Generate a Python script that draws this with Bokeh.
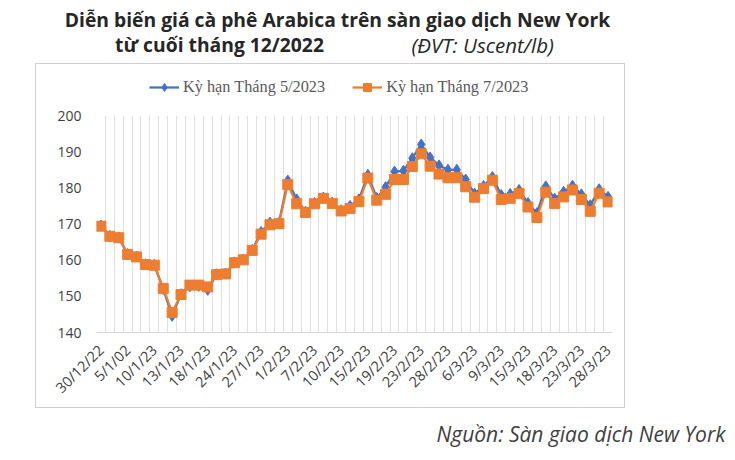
from bokeh.core.properties import value
from bokeh.layouts import column
from bokeh.models import FixedTicker, Legend, LegendItem, Range1d
from bokeh.plotting import figure
from bokeh.embed import file_html
from bokeh.resources import INLINE

# tick labels, shown every 3rd trading day
tick_labels = ["30/12/22", "5/1/02", "10/1/23", "13/1/23", "18/1/23", "24/1/23",
               "27/1/23", "1/2/23", "7/2/23", "10/2/23", "15/2/23", "19/2/23",
               "23/2/23", "28/2/23", "6/3/23", "9/3/23", "15/3/23", "18/3/23",
               "23/3/23", "28/3/23"]

# Ky han Thang 5/2023 (Uscent/lb)
may_2023 = [169.6, 166.7, 166.3, 161.7, 161.0, 158.9, 158.7, 152.0, 144.6, 150.6,
            152.8, 152.9, 151.8, 156.1, 156.3, 159.4, 160.2, 162.8, 167.8, 170.4,
            170.3, 182.0, 176.8, 173.4, 175.8, 177.3, 175.9, 173.8, 175.0, 176.8,
            183.6, 177.2, 180.2, 184.5, 184.7, 188.2, 192.0, 188.4, 186.2, 185.0,
            185.0, 182.3, 178.4, 180.5, 183.0, 178.0, 178.3, 179.4, 175.8, 173.0,
            180.4, 177.0, 178.9, 180.6, 178.2, 175.2, 179.6, 177.5]

# Ky han Thang 7/2023 (Uscent/lb)
jul_2023 = [169.4, 166.6, 166.2, 161.6, 160.9, 158.8, 158.6, 152.2, 145.5, 150.5,
            153.1, 153.1, 152.6, 156.0, 156.2, 159.3, 160.1, 162.7, 167.2, 169.8,
            170.1, 180.9, 175.6, 173.2, 175.6, 177.1, 175.7, 173.6, 174.3, 176.2,
            182.7, 176.6, 178.2, 182.3, 182.3, 185.9, 189.4, 186.0, 183.8, 182.8,
            182.8, 180.3, 177.4, 179.8, 182.1, 176.8, 177.1, 178.4, 174.7, 171.8,
            178.8, 175.7, 177.5, 179.4, 176.8, 173.5, 178.5, 176.1]

series_names = ["Kỳ hạn Tháng 5/2023", "Kỳ hạn Tháng 7/2023"]

x = list(range(len(jul_2023)))
tick_pos = x[::3]

BLUE = "#4472C4"
ORANGE = "#ED7D31"
W = 730
BOX_W = 588


def blank(width, height):
    # figure whose frame is the whole canvas, y pointing down (pixel units)
    f = figure(width=width, height=height, output_backend="svg", toolbar_location=None,
               tools="", x_range=Range1d(0, width), y_range=Range1d(height, 0),
               x_axis_type=None, y_axis_type=None,
               min_border_left=0, min_border_right=0, min_border_top=0,
               min_border_bottom=0)
    f.outline_line_color = None
    f.grid.visible = False
    f.frame_align = False
    return f


# ---- title
top = blank(W, 63)
top.text(x=[337], y=[19], text=["Diễn biến giá cà phê Arabica trên sàn giao dịch New York"],
         text_align="center", text_baseline="middle", text_font=value("Open Sans"),
         text_font_style="bold", text_font_size="19.3px", text_color="#262626")
top.text(x=[219], y=[44], text=["từ cuối tháng 12/2022"],
         text_align="center", text_baseline="middle", text_font=value("Open Sans"),
         text_font_style="bold", text_font_size="19.3px", text_color="#262626")
top.text(x=[411], y=[44], text=["(ĐVT: Uscent/lb)"],
         text_align="left", text_baseline="middle", text_font=value("Open Sans"),
         text_font_style="italic", text_font_size="20.5px", text_color="#262626")

# ---- legend strip (inside the chart box); samples sit outside its visible range
leg = blank(BOX_W, 41)
off = [-50, -40]
lb0 = leg.line(off, off, line_color=BLUE, line_width=2.25)
sb0 = leg.scatter(off, off, marker="diamond", size=11, fill_color=BLUE, line_color=BLUE)
lo0 = leg.line(off, off, line_color=ORANGE, line_width=2.25)
so0 = leg.scatter(off, off, marker="square", size=10, fill_color=ORANGE, line_color=ORANGE)
legend = Legend(items=[LegendItem(label=series_names[0], renderers=[lb0, sb0]),
                       LegendItem(label=series_names[1], renderers=[lo0, so0])],
                orientation="horizontal", location=(113, 8), padding=0, margin=0,
                spacing=27, glyph_width=30, glyph_height=20, label_standoff=4,
                background_fill_alpha=0, border_line_color=None,
                label_text_font="Liberation Serif", label_text_font_size="16.3px",
                label_text_color="#595959")
leg.add_layout(legend, "center")

# ---- chart
p = figure(width=BOX_W, height=302, output_backend="svg", toolbar_location=None,
           tools="", x_range=Range1d(-0.5, len(x) - 0.5), y_range=Range1d(140, 200),
           min_border_left=60, min_border_right=12, min_border_top=10,
           min_border_bottom=75)
p.outline_line_color = None
p.frame_align = False

p.yaxis.ticker = FixedTicker(ticks=[140, 150, 160, 170, 180, 190, 200])
p.yaxis.axis_line_color = None
p.yaxis.major_tick_line_color = None
p.yaxis.major_tick_out = 0
p.yaxis.minor_tick_line_color = None
p.yaxis.major_label_standoff = 15
p.yaxis.major_label_text_font = "Open Sans"
p.yaxis.major_label_text_font_size = "14px"
p.yaxis.major_label_text_color = "#404040"

p.xaxis.ticker = FixedTicker(ticks=tick_pos)
p.xaxis.major_label_overrides = {pos: lab for pos, lab in zip(tick_pos, tick_labels)}
p.xaxis.major_label_orientation = 0.785
p.xaxis.axis_line_color = "#d9d9d9"
p.xaxis.major_tick_line_color = None
p.xaxis.major_tick_out = 0
p.xaxis.minor_tick_line_color = None
p.xaxis.major_label_standoff = 15
p.xaxis.major_label_text_font = "Open Sans"
p.xaxis.major_label_text_font_size = "14.5px"
p.xaxis.major_label_text_color = "#404040"

# vertical gridlines between categories
p.xgrid.ticker = FixedTicker(ticks=[i - 0.5 for i in range(len(x) + 1)])
p.xgrid.grid_line_color = "#e0e0e0"
p.ygrid.grid_line_color = None

p.line(x, may_2023, line_color=BLUE, line_width=2.25)
p.scatter(x, may_2023, marker="diamond", size=11, fill_color=BLUE, line_color=BLUE)
p.line(x, jul_2023, line_color=ORANGE, line_width=2.25)
p.scatter(x, jul_2023, marker="square", size=10, fill_color=ORANGE, line_color=ORANGE)

box = column(leg, p, spacing=0, margin=(0, 0, 0, 35))
box.styles = {"border": "1px solid #d0d0d0"}

# ---- source
bottom = blank(W, 47)
bottom.text(x=[725], y=[25], text=["Nguồn: Sàn giao dịch New York"],
            text_align="right", text_baseline="middle", text_font=value("Open Sans"),
            text_font_style="italic", text_font_size="21px", text_color="#404040")

layout = column(top, box, bottom, spacing=0)
open("out.html", "w").write(file_html(layout, INLINE))
